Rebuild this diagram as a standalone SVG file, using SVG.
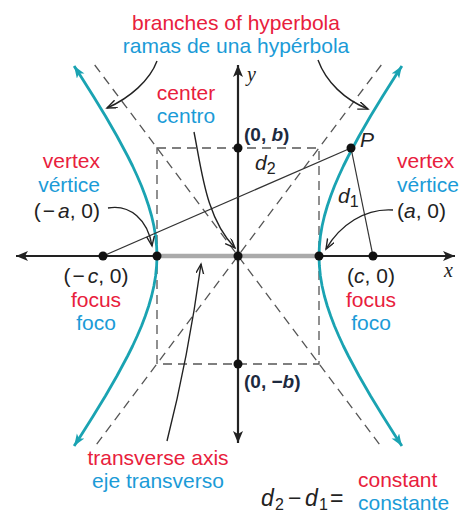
<svg xmlns="http://www.w3.org/2000/svg" width="465" height="513" viewBox="0 0 465 513">
<style>
text{font-family:"Liberation Sans",Arial,sans-serif;font-size:21px}
.r{fill:#e8203c}
.b{fill:#1b9bd7}
.k{fill:#222}
.pt{font-weight:bold;font-size:19px;fill:#1d2a3f}
.it{font-style:italic}
.eq{font-size:23px}
.sub{font-size:16px}
.ser{font-family:"Liberation Serif","Times New Roman",serif;font-style:italic;font-size:20px;fill:#222}
.dash{stroke:#555;stroke-width:1.3;stroke-dasharray:9 6;fill:none}
.hyp{stroke:#1aa3b2;stroke-width:2.8;fill:none;stroke-linejoin:round;marker-start:url(#ta);marker-end:url(#ta)}
.ptr{stroke:#222;stroke-width:1.4;fill:none;marker-end:url(#oa)}
.axis{stroke:#222;stroke-width:2.2;fill:none;marker-start:url(#aa);marker-end:url(#aa)}
</style>
<defs>
<marker id="ta" markerUnits="userSpaceOnUse" markerWidth="14" markerHeight="10" refX="12" refY="4.5" orient="auto-start-reverse"><path d="M0,0 L12,4.5 L0,9 L3,4.5 z" fill="#1aa3b2"/></marker>
<marker id="aa" markerUnits="userSpaceOnUse" markerWidth="14" markerHeight="10" refX="12" refY="5" orient="auto-start-reverse"><path d="M0,0 L12,5 L0,10 L3,5 z" fill="#222"/></marker>
<marker id="oa" markerUnits="userSpaceOnUse" markerWidth="12" markerHeight="10" refX="10" refY="4" orient="auto"><path d="M0,0 L10,4 L0,8" fill="none" stroke="#222" stroke-width="1.4"/></marker>
</defs>

<g id="connectors">
<rect class="dash" x="157" y="148" width="162" height="216"/>
<line class="dash" x1="94.7" y1="65" x2="381.5" y2="447"/>
<line class="dash" x1="381.3" y1="65" x2="94.5" y2="447"/>
<line class="axis" x1="16" y1="256" x2="455" y2="256"/>
<line class="axis" x1="238" y1="443" x2="238" y2="65"/>
<line x1="157" y1="256" x2="319" y2="256" stroke="#aaa" stroke-width="4.5"/>
<line x1="238" y1="250" x2="238" y2="262" stroke="#222" stroke-width="2.2"/>
<path class="hyp" d="M401.9,446 L395.4,436 L382.8,416 L370.6,396 L359.1,376 L348.4,356 L343.4,346 L338.8,336 L334.5,326 L330.7,316 L327.3,306 L324.4,296 L322.1,286 L320.4,276 L319.4,266 L319,256 L319.4,246 L320.4,236 L322.1,226 L324.4,216 L327.3,206 L330.7,196 L334.5,186 L338.8,176 L343.4,166 L348.4,156 L359.1,136 L370.6,116 L382.8,96 L395.4,76 L401.9,66"/>
<path class="hyp" d="M74.1,446 L80.6,436 L93.2,416 L105.4,396 L116.9,376 L127.6,356 L132.6,346 L137.2,336 L141.5,326 L145.3,316 L148.7,306 L151.6,296 L153.9,286 L155.6,276 L156.6,266 L157,256 L156.6,246 L155.6,236 L153.9,226 L151.6,216 L148.7,206 L145.3,196 L141.5,186 L137.2,176 L132.6,166 L127.6,156 L116.9,136 L105.4,116 L93.2,96 L80.6,76 L74.1,66"/>
<line x1="103" y1="256" x2="351" y2="148" stroke="#333" stroke-width="1.2"/>
<line x1="351" y1="148" x2="373" y2="256" stroke="#333" stroke-width="1.2"/>
<path class="ptr" d="M157,61 C150,80 130,98 107,108"/>
<path class="ptr" d="M318,60 C326,82 345,100 368,109"/>
<path class="ptr" d="M194,132 C202,172 206,218 235,248"/>
<path class="ptr" d="M108,208 C130,204 148,220 152,246"/>
<path class="ptr" d="M393,210 C365,208 340,225 326,249"/>
<path class="ptr" d="M167,441 C180,390 192,330 201,264"/>
</g>

<g id="points" fill="#111">
<circle cx="103" cy="256" r="4.5"/>
<circle cx="157" cy="256" r="4.5"/>
<circle cx="238" cy="256" r="4.5"/>
<circle cx="319" cy="256" r="4.5"/>
<circle cx="373" cy="256" r="4.5"/>
<circle cx="238" cy="148" r="4.5"/>
<circle cx="238" cy="364" r="4.5"/>
<circle cx="351" cy="148" r="4.5"/>
</g>

<g id="branches-label" text-anchor="middle">
<text class="r" x="236" y="30">branches of hyperbola</text>
<text class="b" x="236" y="53">ramas de una hypérbola</text>
</g>
<g id="center-label" text-anchor="middle">
<text class="r" x="186" y="100">center</text>
<text class="b" x="186" y="123">centro</text>
</g>
<g id="vertex-left" text-anchor="end">
<text class="r" x="100" y="168">vertex</text>
<text class="b" x="100" y="192">vértice</text>
<text class="k" x="100" y="218">(<tspan dx="2">−</tspan><tspan class="it" dx="3">a</tspan>, 0)</text>
</g>
<g id="vertex-right">
<text class="r" x="397" y="168">vertex</text>
<text class="b" x="397" y="192">vértice</text>
<text class="k" x="397" y="218">(<tspan class="it">a</tspan>, 0)</text>
</g>
<g id="focus-left" text-anchor="middle">
<text class="k" x="96" y="283">(<tspan dx="2">−</tspan><tspan class="it" dx="3">c</tspan>, 0)</text>
<text class="r" x="96" y="307">focus</text>
<text class="b" x="96" y="330">foco</text>
</g>
<g id="focus-right" text-anchor="middle">
<text class="k" x="371" y="283">(<tspan class="it">c</tspan>, 0)</text>
<text class="r" x="371" y="307">focus</text>
<text class="b" x="371" y="330">foco</text>
</g>
<g id="covertices">
<text class="pt" x="244" y="141">(0, <tspan class="it">b</tspan>)</text>
<text class="pt" x="244" y="388">(0, −<tspan class="it">b</tspan>)</text>
</g>
<g id="point-labels">
<text class="k it" x="360" y="147">P</text>
<text class="k" x="255" y="170"><tspan class="it">d</tspan><tspan class="sub" dy="4">2</tspan></text>
<text class="k" x="338" y="203"><tspan class="it">d</tspan><tspan class="sub" dy="4">1</tspan></text>
<text class="ser" x="444" y="277">x</text>
<text class="ser" x="247" y="81">y</text>
</g>
<g id="transverse-label" text-anchor="middle">
<text class="r" x="158" y="465">transverse axis</text>
<text class="b" x="158" y="488">eje transverso</text>
</g>
<g id="equation">
<text class="k eq" x="261" y="506"><tspan class="it">d</tspan><tspan class="sub" x="275" dy="4">2</tspan><tspan x="288" dy="-4">−</tspan><tspan class="it" x="305">d</tspan><tspan class="sub" x="319" dy="4">1</tspan><tspan x="330" dy="-4">=</tspan></text>
<text class="r" x="358" y="487">constant</text>
<text class="b" x="358" y="510">constante</text>
</g>
</svg>
